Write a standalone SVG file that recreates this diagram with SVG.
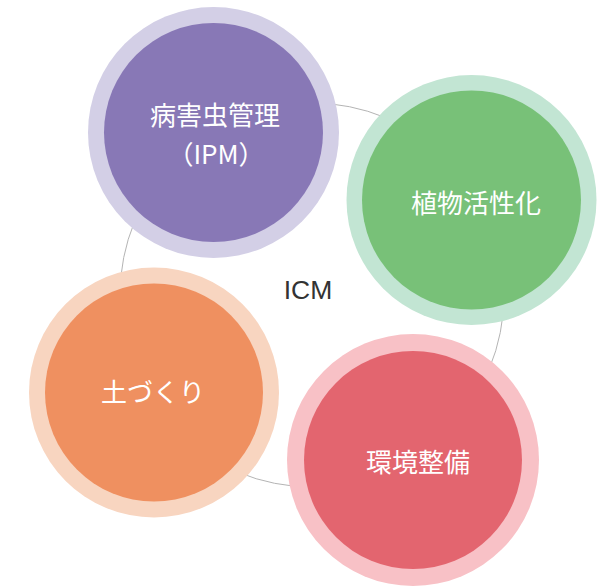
<svg xmlns="http://www.w3.org/2000/svg" width="611" height="587" viewBox="0 0 611 587">
<style>
.lbl{font-family:"Noto Sans CJK JP","Noto Sans",sans-serif;font-size:26px;fill:#ffffff;text-anchor:middle}
</style>
<rect width="611" height="587" fill="#ffffff"/>
<g id="connectors">
<circle cx="312" cy="295" r="192" fill="none" stroke="#b4b4b4" stroke-width="1"/>
</g>
<g id="ipm">
<circle cx="213.5" cy="132.5" r="125.5" fill="#d3cfe6"/>
<circle cx="213.5" cy="132.5" r="109.5" fill="#8878b6"/>
<text class="lbl" x="215" y="125">病害虫管理</text>
<text class="lbl" x="216" y="164">（IPM）</text>
</g>
<g id="plant">
<circle cx="471.5" cy="200" r="125" fill="#c2e5d3"/>
<circle cx="471.5" cy="200" r="109.5" fill="#78c178"/>
<text class="lbl" x="476" y="213">植物活性化</text>
</g>
<g id="env">
<circle cx="413" cy="460" r="126" fill="#f8c1c6"/>
<circle cx="413" cy="460" r="109" fill="#e3656f"/>
<text class="lbl" x="418" y="472">環境整備</text>
</g>
<g id="soil">
<circle cx="154" cy="392.5" r="125" fill="#f8d5c0"/>
<circle cx="154" cy="392.5" r="109" fill="#ef9060"/>
<text class="lbl" x="153" y="402">土づくり</text>
</g>
<g id="icm">
<text x="308" y="299" font-family="Liberation Sans, Arial, sans-serif" font-size="26.5" fill="#333333" text-anchor="middle">ICM</text>
</g>
</svg>
